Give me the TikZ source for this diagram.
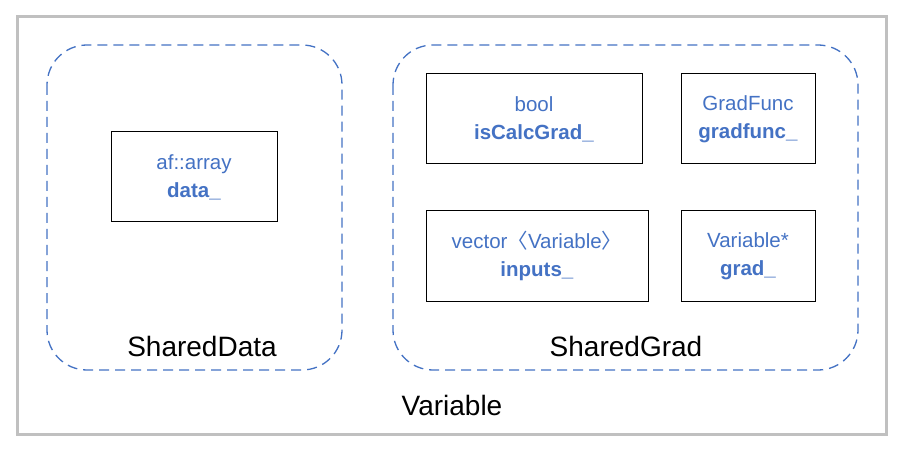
\documentclass[tikz,border=0pt]{standalone}
\usepackage{fontspec}
\setmainfont{Liberation Sans}
\newfontfamily\cjk{Noto Sans CJK JP}
\definecolor{blu}{HTML}{4472C4}
\definecolor{gry}{HTML}{C0C0C0}
\begin{document}
\begin{tikzpicture}[x=1pt,y=-1pt,
  outer/.style={draw=gry,line width=3pt},
  group/.style={draw=blu,line width=1.3pt,dash pattern=on 10pt off 6pt,rounded corners=40pt},
  member/.style={draw=black,line width=1pt,fill=white,align=center,text=blu,font=\fontsize{20.5}{28}\selectfont,inner sep=0pt},
  lbl/.style={font=\fontsize{28}{32}\selectfont,text=black}]
\useasboundingbox (0,0) rectangle (904,454);
\fill[white] (0,0) rectangle (904,454);
\draw[outer] (17,17) rectangle (886,434);
\draw[group] (47,45) rectangle (342,370);
\draw[group] (393,45) rectangle (858,370);
\node[member,minimum width=166pt,minimum height=90pt] (data) at (194,177) {af::array\\\textbf{data\_}};
\node[member,minimum width=216pt,minimum height=90pt] (calc) at (534,119) {bool\\\textbf{isCalcGrad\_}};
\node[member,minimum width=134pt,minimum height=90pt] (gf) at (748,119) {GradFunc\\\textbf{gradfunc\_}};
\node[member,minimum width=222pt,minimum height=90pt] (inp) at (537,256) {vector{\cjk 〈}Variable{\cjk 〉}\\\textbf{inputs\_}};
\node[member,minimum width=134pt,minimum height=90pt] (gr) at (748,256) {Variable*\\\textbf{grad\_}};
\node[lbl] (sd) at (202,346) {SharedData};
\node[lbl] (sg) at (626,346) {SharedGrad};
\node[lbl] (var) at (452,405) {Variable};
\end{tikzpicture}
\end{document}
